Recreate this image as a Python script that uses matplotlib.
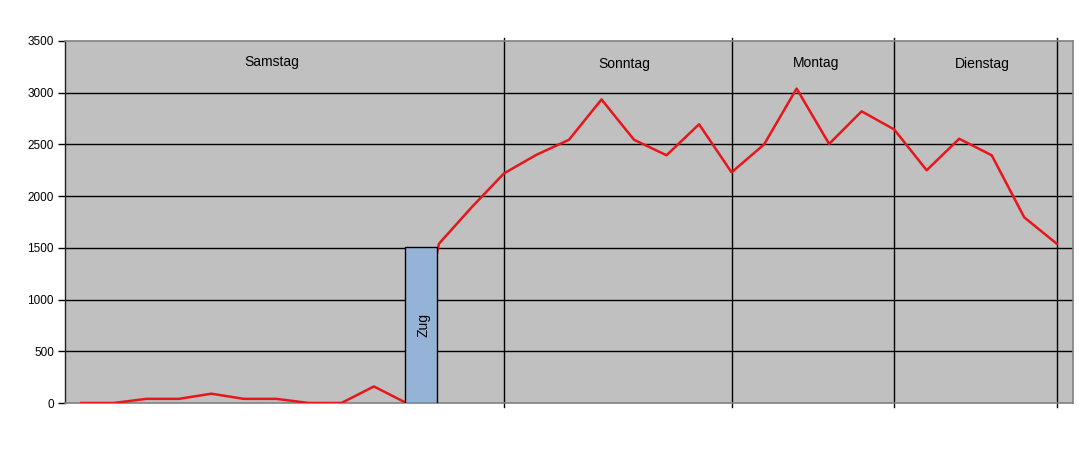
import matplotlib

matplotlib.use("Agg")
import matplotlib.pyplot as plt  # noqa: E402
import numpy as np  # noqa: E402

plt.rcParams["font.family"] = ["Liberation Sans", "DejaVu Sans"]

# hourly-ish counts, one value per category slot
values = [0, 0, 40, 40, 90, 40, 40, 0, 0, 160, 0,
          1540, 1890, 2220, 2400, 2545, 2935, 2545, 2395, 2695, 2230,
          2500, 3040, 2505, 2820, 2645, 2250, 2555, 2395, 1795, 1540]

# day separators and day labels (category positions)
day_breaks = [13, 20, 25, 30]
day_names = ["Samstag", "Sonntag", "Montag", "Dienstag"]
day_label_pos = [5.85, 16.7, 22.6, 27.7]
day_label_y = [3300, 3280, 3290, 3280]

# the train marker
zug_label = "Zug"
zug_pos = 10.46
zug_height = 1510

yticks = [0, 500, 1000, 1500, 2000, 2500, 3000, 3500]

fig = plt.figure(figsize=(10.79, 4.51), dpi=100)
ax = fig.add_axes([65 / 1079, 1 - 403 / 451, 1008 / 1079, 362 / 451])
ax.set_facecolor("#C0C0C0")

x = np.arange(len(values))
ax.set_xlim(-0.5, len(values) - 0.5)
ax.set_ylim(0, 3500)

for yv in yticks[1:-1]:
    ax.axhline(yv, color="black", lw=1.0, zorder=1)

for b in day_breaks:
    ax.plot([b, b], [-40, 3530], color="black", lw=1.0, zorder=2, clip_on=False)

ax.plot(x, values, color="#E8161A", lw=1.8, zorder=3)

ax.bar(zug_pos, zug_height, width=0.98, color="#95B3D7", edgecolor="black",
       lw=1.0, zorder=4)
ax.text(zug_pos + 0.08, 755, zug_label, rotation=90, ha="center", va="center",
        fontsize=10, zorder=5)

for name, px, py in zip(day_names, day_label_pos, day_label_y):
    ax.text(px, py, name, ha="center", va="center", fontsize=10)

ax.set_yticks(yticks)
ax.set_yticklabels([str(v) for v in yticks], fontsize=8.5)
ax.set_xticks([])
ax.tick_params(axis="y", direction="out", length=5, width=1, pad=3)

for side in ["top", "right", "bottom"]:
    ax.spines[side].set_color("#808080")
    ax.spines[side].set_linewidth(1.2)
ax.spines["left"].set_color("#202020")
ax.spines["left"].set_linewidth(1.0)

fig.savefig("out.png", dpi=100)
